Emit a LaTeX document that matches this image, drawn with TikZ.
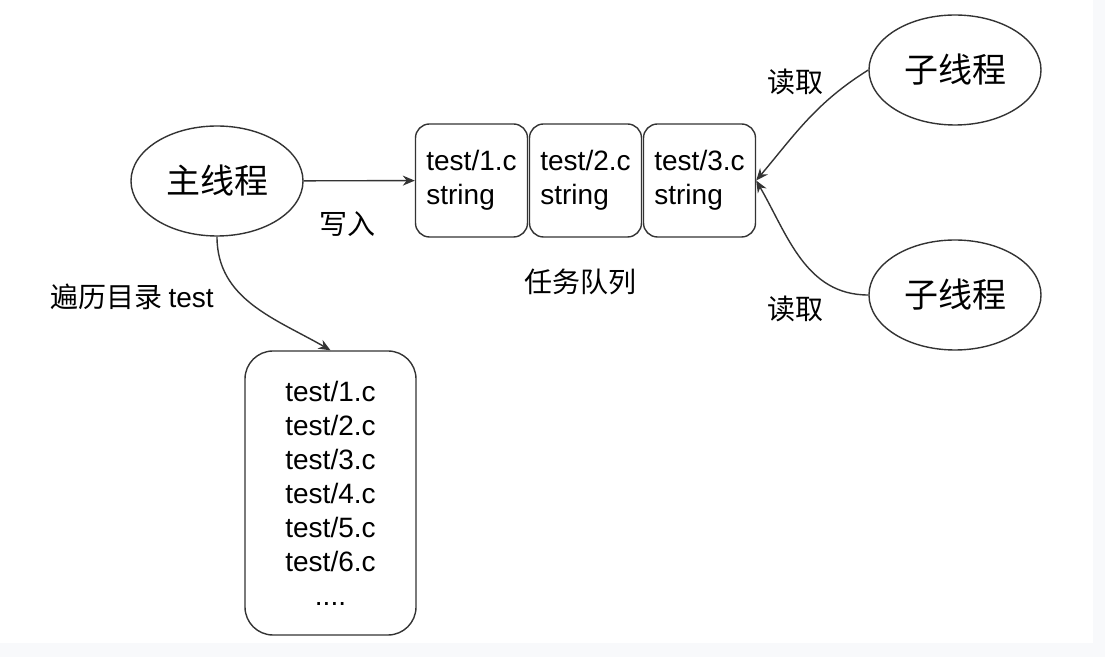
\documentclass[tikz,border=0pt]{standalone}
\usepackage{fontspec}
\setmainfont{Liberation Sans}
\newfontfamily\cjk{Noto Sans CJK SC}
\usetikzlibrary{shapes.geometric, arrows.meta, positioning}
\definecolor{pagegray}{HTML}{F8F9FB}
\definecolor{linecolor}{HTML}{333333}

\begin{document}
\begin{tikzpicture}[
  x=0.5pt, y=-0.5pt,
  thread/.style={ellipse, draw=linecolor, line width=0.7pt, minimum width=86pt, minimum height=55pt, font=\fontsize{17}{20}\selectfont\cjk},
  qitem/.style={rectangle, draw=linecolor, line width=0.7pt, rounded corners=7pt, minimum width=56pt, minimum height=56.5pt, align=left, font=\fontsize{14}{17}\selectfont},
  filebox/.style={rectangle, draw=linecolor, line width=0.7pt, rounded corners=14pt, minimum width=85.5pt, minimum height=142pt, align=center, font=\fontsize{14}{17}\selectfont},
  lbl/.style={font=\fontsize{14}{16}\selectfont\cjk},
  arrow/.style={-{Stealth[length=6pt, width=5pt]}, draw=linecolor, line width=0.7pt}
]
  % Page background
  \fill[pagegray] (0,0) rectangle (1105,657);
  \fill[white] (0,0) rectangle (1093,643);
  \useasboundingbox (0,0) rectangle (1105,657);

  % Threads
  \node[thread] (mainthr) at (217,181) {主线程};
  \node[thread] (sub1) at (955,70)  {子线程};
  \node[thread] (sub2) at (955,295) {子线程};

  % Task queue
  \node[qitem] (q1) at (471.5,180.5) {test/1.c\\string};
  \node[qitem, right=0.3pt of q1] (q2) {test/2.c\\string};
  \node[qitem, right=0.3pt of q2] (q3) {test/3.c\\string};

  % File list
  \node[filebox] (files) at (330.5,493) {test/1.c\\test/2.c\\test/3.c\\test/4.c\\test/5.c\\test/6.c\\....};

  % Labels
  \node[lbl] (lwrite) at (347,224) {写入};
  \node[lbl] (lqueue) at (580,282) {任务队列};
  \node[lbl] (lread1) at (795,82)  {读取};
  \node[lbl] (lread2) at (795,309) {读取};
  \node[lbl] (lwalk)  at (132,297) {遍历目录 {\rmfamily test}};

  % Connections
  \draw[arrow] (mainthr) -- (q1);
  \draw[arrow] (mainthr.south) to[out=-90, in=150] (files.north);
  \draw[arrow] (sub1.west) to[out=212, in=50] (q3.east);
  \draw[arrow] (sub2.west) to[out=180, in=-60] (q3.east);
\end{tikzpicture}
\end{document}
